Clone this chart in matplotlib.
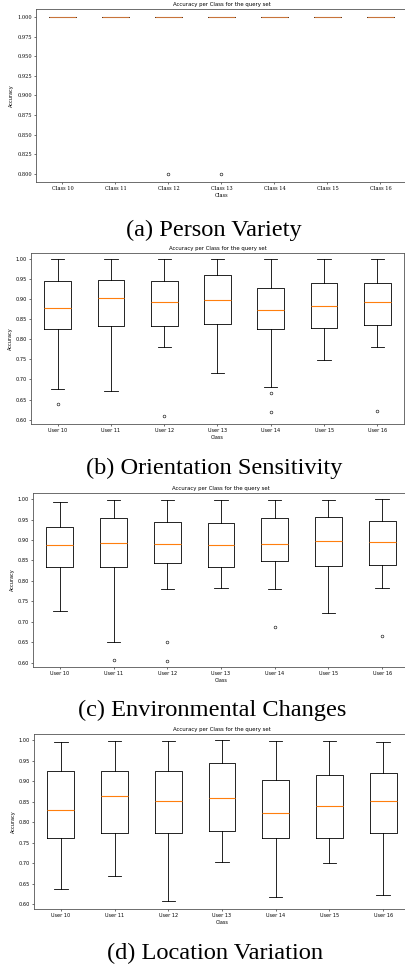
import matplotlib
matplotlib.use("Agg")
import matplotlib.pyplot as plt

# ---- data ----
classes_a = ["Class 10", "Class 11", "Class 12", "Class 13", "Class 14", "Class 15", "Class 16"]
users = ["User 10", "User 11", "User 12", "User 13", "User 14", "User 15", "User 16"]

# (a) person variety: every box collapsed at 1.0
a_q1 = [1.0, 1.0, 1.0, 1.0, 1.0, 1.0, 1.0]
a_med = [1.0, 1.0, 1.0, 1.0, 1.0, 1.0, 1.0]
a_q3 = [1.0, 1.0, 1.0, 1.0, 1.0, 1.0, 1.0]
a_lo = [1.0, 1.0, 1.0, 1.0, 1.0, 1.0, 1.0]
a_hi = [1.0, 1.0, 1.0, 1.0, 1.0, 1.0, 1.0]
a_fl = [[], [], [0.8], [0.8], [], [], []]

# (b) orientation sensitivity
b_q1 = [0.825, 0.834, 0.834, 0.839, 0.826, 0.827, 0.835]
b_med = [0.877, 0.902, 0.892, 0.897, 0.872, 0.884, 0.893]
b_q3 = [0.946, 0.948, 0.946, 0.959, 0.929, 0.940, 0.941]
b_lo = [0.677, 0.670, 0.782, 0.716, 0.681, 0.748, 0.782]
b_hi = [0.999, 0.999, 0.999, 1.000, 0.999, 1.000, 0.999]
b_fl = [[0.638], [], [0.608], [], [0.667, 0.618], [], [0.622]]

# (c) environmental changes
c_q1 = [0.833, 0.833, 0.843, 0.835, 0.849, 0.836, 0.839]
c_med = [0.888, 0.893, 0.891, 0.888, 0.891, 0.898, 0.896]
c_q3 = [0.932, 0.955, 0.945, 0.942, 0.955, 0.957, 0.947]
c_lo = [0.725, 0.650, 0.780, 0.782, 0.781, 0.720, 0.783]
c_hi = [0.993, 0.999, 0.998, 0.998, 0.997, 0.999, 1.000]
c_fl = [[], [0.607], [0.649, 0.604], [], [0.687], [], [0.666]]

# (d) location variation
d_q1 = [0.762, 0.774, 0.774, 0.779, 0.762, 0.763, 0.774]
d_med = [0.831, 0.865, 0.851, 0.860, 0.823, 0.840, 0.853]
d_q3 = [0.924, 0.926, 0.925, 0.944, 0.903, 0.916, 0.920]
d_lo = [0.638, 0.670, 0.608, 0.704, 0.619, 0.702, 0.623]
d_hi = [0.995, 0.997, 0.997, 1.000, 0.997, 0.999, 0.996]
d_fl = [[], [], [], [], [], [], []]

captions = ["(a) Person Variety", "(b) Orientation Sensitivity",
            "(c) Environmental Changes", "(d) Location Variation"]

W, H = 406, 971
fig = plt.figure(figsize=(W / 100, H / 100), dpi=100)

# axes boxes in pixels: left, right, top, bottom
boxes = [(36, 407, 9, 182), (31, 404, 253, 424), (33, 409, 493, 667), (34, 410, 734, 909)]
caption_pos = [(214, 230), (214, 468), (212, 710), (215, 953)]

panels = [
    (classes_a, a_q1, a_med, a_q3, a_lo, a_hi, a_fl),
    (users, b_q1, b_med, b_q3, b_lo, b_hi, b_fl),
    (users, c_q1, c_med, c_q3, c_lo, c_hi, c_fl),
    (users, d_q1, d_med, d_q3, d_lo, d_hi, d_fl),
]

fs = 3.6
lw = 0.6
for i, (labels, q1, med, q3, lo, hi, fl) in enumerate(panels):
    l, r, t, b = boxes[i]
    ax = fig.add_axes([l / W, 1 - b / H, (r - l) / W, (b - t) / H])
    stats = [dict(q1=q1[k], med=med[k], q3=q3[k], whislo=lo[k], whishi=hi[k],
                  fliers=fl[k], label=labels[k]) for k in range(len(labels))]
    # collapsed boxes in (a) show a brownish median over the black lines
    med_color = "#c8743a" if i == 0 else "#ff7f0e"
    ax.bxp(stats,
           boxprops=dict(linewidth=lw, color="black"),
           whiskerprops=dict(linewidth=lw, color="black"),
           capprops=dict(linewidth=lw, color="black"),
           medianprops=dict(linewidth=lw + 0.2, color=med_color, zorder=4),
           flierprops=dict(marker="o", markersize=2, markeredgewidth=0.4,
                           markerfacecolor="none", markeredgecolor="black"))
    fam = "DejaVu Serif" if i == 0 else "DejaVu Sans"
    ax.set_title("Accuracy per Class for the query set", fontsize=fs + 0.3, pad=2)
    ax.set_xlabel("Class", fontsize=fs, labelpad=1, family=fam)
    ax.set_ylabel("Accuracy", fontsize=fs, labelpad=2)
    ax.tick_params(labelsize=fs, length=1.5, width=0.4, pad=1.5)
    for lab in ax.get_xticklabels() + ax.get_yticklabels():
        lab.set_family(fam)
    for sp in ax.spines.values():
        sp.set_linewidth(lw)
        sp.set_color("#555555")
    if i == 0:
        ax.set_ylim(0.79, 1.01)
        ax.set_yticks([0.800, 0.825, 0.850, 0.875, 0.900, 0.925, 0.950, 0.975, 1.000])
        ax.set_yticklabels(["%.3f" % v for v in ax.get_yticks()], family=fam)
    else:
        ax.set_ylim(0.589, 1.015)
        ax.set_yticks([0.60, 0.65, 0.70, 0.75, 0.80, 0.85, 0.90, 0.95, 1.00])
        ax.set_yticklabels(["%.2f" % v for v in ax.get_yticks()])

    cx, cy = caption_pos[i]
    fig.text(cx / W, 1 - cy / H, captions[i], ha="center", va="center",
             fontsize=17.6, family="Liberation Serif")

fig.savefig("out.png", dpi=100)
